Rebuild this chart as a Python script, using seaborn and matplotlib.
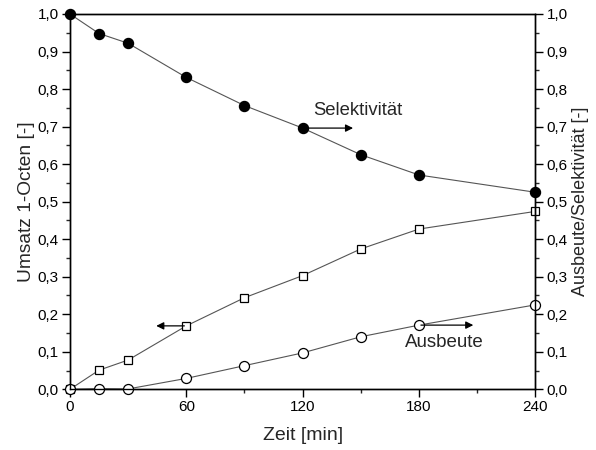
import matplotlib
matplotlib.use("Agg")
import matplotlib.pyplot as plt
from matplotlib.ticker import FuncFormatter, MultipleLocator
import seaborn as sns
import pandas as pd

# Reaction time series
zeit = [0, 15, 30, 60, 90, 120, 150, 180, 240]
umsatz = [0.0, 0.051, 0.078, 0.169, 0.244, 0.303, 0.374, 0.427, 0.474]
selektivitaet = [1.0, 0.948, 0.922, 0.831, 0.756, 0.696, 0.625, 0.571, 0.525]
ausbeute = [0.0, 0.002, 0.001, 0.029, 0.063, 0.097, 0.140, 0.171, 0.225]

x_ticks = [0, 60, 120, 180, 240]

sns.set_style("ticks")
plt.rcParams["font.family"] = ["Liberation Sans", "DejaVu Sans"]

df = pd.DataFrame({"Zeit": zeit, "Umsatz": umsatz,
                   "Selektivitaet": selektivitaet, "Ausbeute": ausbeute})

fig = plt.figure(figsize=(5.96, 4.5), dpi=100)
ax = fig.add_axes([0.1174, 0.1349, 0.7808, 0.8340])
ax2 = ax.twinx()

line_kw = dict(color="#555555", linewidth=0.8, markeredgecolor="black",
               markeredgewidth=0.9, clip_on=False)

sns.lineplot(data=df, x="Zeit", y="Umsatz", ax=ax, marker="s",
             markersize=6, markerfacecolor="white", **line_kw)
sns.lineplot(data=df, x="Zeit", y="Selektivitaet", ax=ax2, marker="o",
             markersize=7.3, markerfacecolor="black", **line_kw)
sns.lineplot(data=df, x="Zeit", y="Ausbeute", ax=ax2, marker="o",
             markersize=7.2, markerfacecolor="white", **line_kw)

comma = FuncFormatter(lambda v, p: f"{v:.1f}".replace(".", ","))
for a in (ax, ax2):
    a.set_xlim(0, 240)
    a.set_ylim(0, 1.0)
    a.yaxis.set_major_locator(MultipleLocator(0.1))
    a.yaxis.set_minor_locator(MultipleLocator(0.05))
    a.yaxis.set_major_formatter(comma)
    a.tick_params(axis="both", which="major", direction="out", length=5.5,
                  width=1, labelsize=11, pad=2.5, colors="black")
    a.tick_params(axis="both", which="minor", direction="out", length=3,
                  width=1)
    for s in a.spines.values():
        s.set_visible(True)
        s.set_linewidth(1.0)
        s.set_color("black")

ax.set_xticks(x_ticks)
ax.xaxis.set_minor_locator(MultipleLocator(30))
ax.set_xlabel("Zeit [min]", fontsize=14, labelpad=9)
ax.set_ylabel("Umsatz 1-Octen [-]", fontsize=13.8, labelpad=2)
ax2.set_ylabel("Ausbeute/Selektivität [-]", fontsize=13, labelpad=3)

arrow = dict(arrowstyle="-|>", color="black", lw=0.9, mutation_scale=11,
             shrinkA=0, shrinkB=0)
# Selektivität -> right axis
ax2.annotate("", xy=(146, selektivitaet[5]), xytext=(121, selektivitaet[5]),
             arrowprops=arrow)
ax2.text(125.5, 0.72, "Selektivität", fontsize=13.3, ha="left", va="bottom")
# Umsatz -> left axis
ax.annotate("", xy=(44.5, umsatz[3]), xytext=(59, umsatz[3]),
            arrowprops=arrow)
# Ausbeute -> right axis
ax2.annotate("", xy=(208, ausbeute[7]), xytext=(181, ausbeute[7]),
             arrowprops=arrow)
ax2.text(173, 0.148, "Ausbeute", fontsize=13.5, ha="left", va="top")

fig.savefig("out.png", dpi=100)
